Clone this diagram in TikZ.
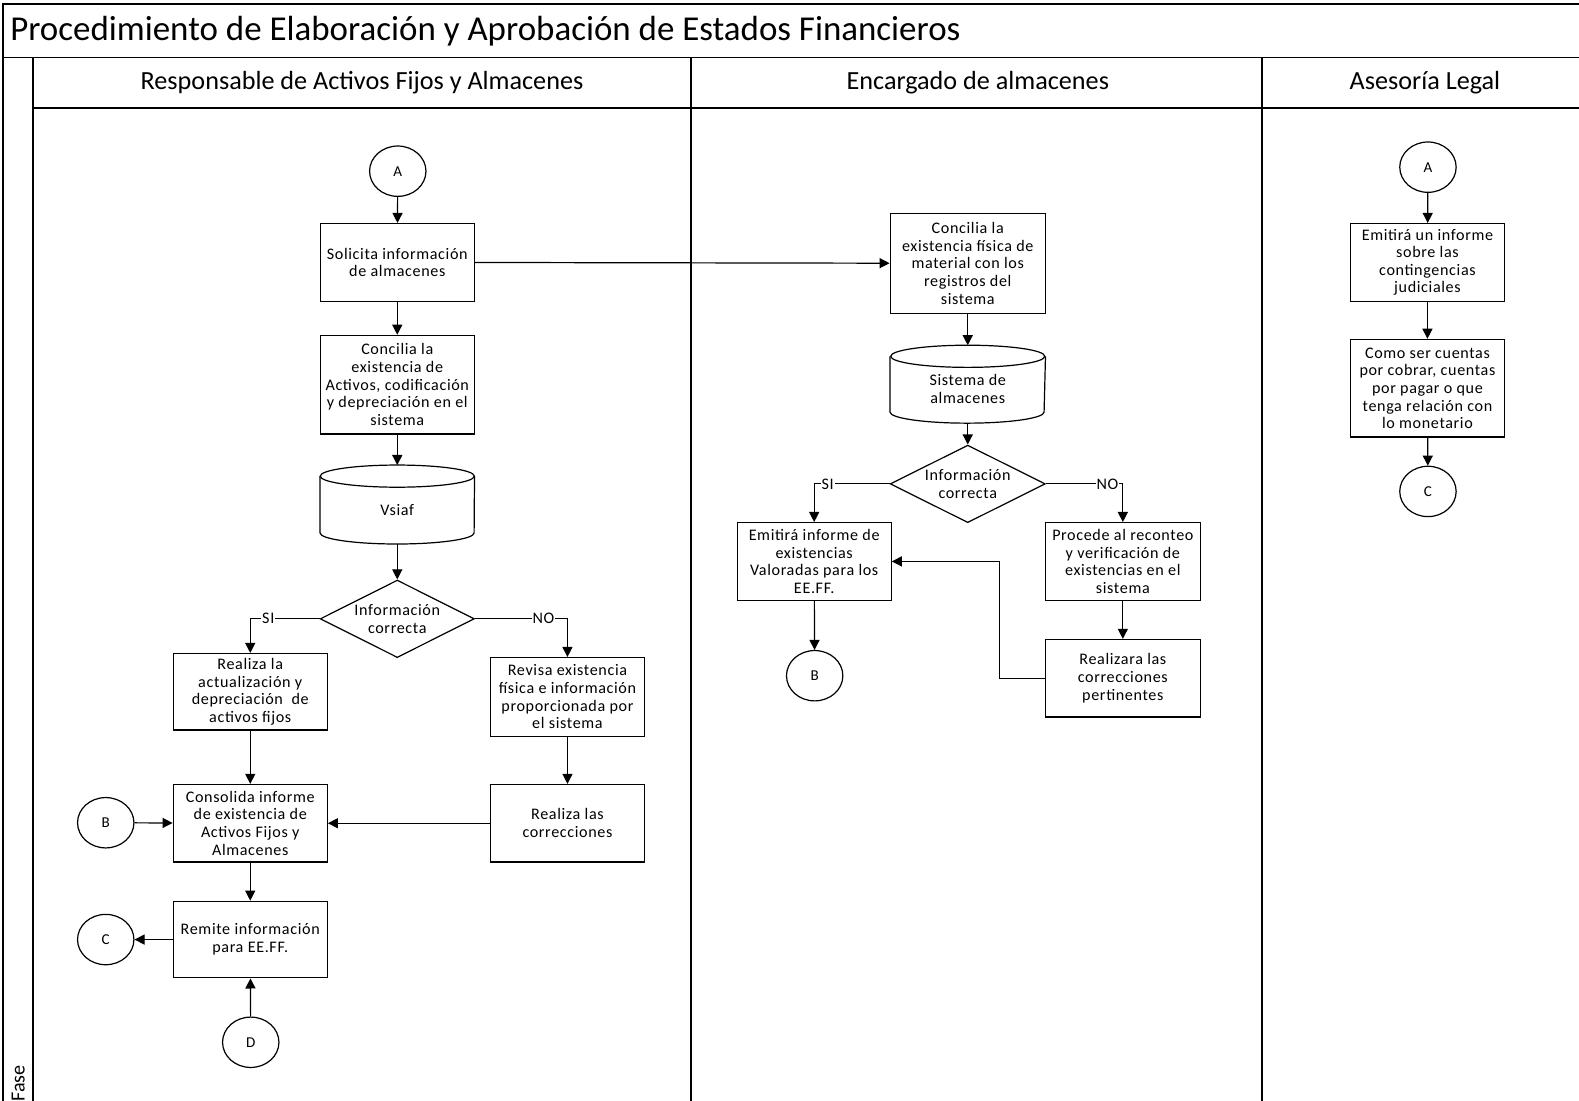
\documentclass[tikz,border=0pt]{standalone}
\usepackage{fontspec}
\setmainfont{Carlito}
\newfontfamily\boxfont{Carlito}[LetterSpace=4]
\usetikzlibrary{shapes.geometric,arrows.meta}

% outline of a data store drawn round a plain node
\newcommand{\dbshape}[1]{%
  \draw[line width=1.2pt] ([yshift=-11pt]#1.north west) -- ([yshift=11pt]#1.south west)
    arc[start angle=180, end angle=360, x radius=76.5pt, y radius=11pt]
    -- ([yshift=-11pt]#1.north east);
  \draw[line width=1.2pt] ([yshift=-11pt]#1.north) ellipse [x radius=76.5pt, y radius=11pt];}

\begin{document}
\begin{tikzpicture}[x=1pt, y=-1pt,
    txt/.style={font=\boxfont\fontsize{16}{17.5}\selectfont, align=center},
    actbox/.style={txt, draw, line width=1.2pt, rectangle, minimum width=153pt, minimum height=77pt, inner sep=2pt},
    store/.style={txt, rectangle, minimum width=153pt, minimum height=78pt, inner sep=2pt},
    decision/.style={txt, draw, line width=1.2pt, diamond, aspect=2, minimum width=153pt, minimum height=77pt, inner sep=0pt},
    conn/.style={draw, line width=1.2pt, ellipse, minimum width=56pt, minimum height=50pt, inner sep=0pt, font=\boxfont\fontsize{15}{17}\selectfont},
    flow/.style={-{Triangle[length=10pt,width=10pt]}, line width=1.2pt},
    lbl/.style={fill=white, inner sep=1pt, font=\boxfont\fontsize{16}{18}\selectfont},
    poolline/.style={line width=1.5pt},
    lane/.style={font=\fontsize{26}{30}\selectfont}]
  \useasboundingbox (0,0) rectangle (1568,1093);

  % pool, title band and lanes
  \draw[poolline] (3,1093) -- (3,4) -- (1568,4);
  \draw[poolline] (3,57) -- (1568,57);
  \draw[poolline] (33,107) -- (1568,107);
  \draw[poolline] (33,57) -- (33,1093);
  \draw[poolline] (686,57) -- (686,1093);
  \draw[poolline] (1253,57) -- (1253,1093);
  \node[anchor=west, inner sep=0pt, font=\fontsize{34.7}{40}\selectfont] (title) at (10,31)
    {Procedimiento de Elaboración y Aprobación de Estados Financieros};
  \node[lane] (hdr1) at (359.5,82) {Responsable de Activos Fijos y Almacenes};
  \node[lane] (hdr2) at (971,82) {Encargado de almacenes};
  \node[lane] (hdr3) at (1415,82) {Asesoría Legal};
  \node[rotate=90, anchor=west, inner sep=0pt, font=\fontsize{20}{22}\selectfont] (fase) at (18,1094) {Fase};

  % Responsable de Activos Fijos y Almacenes
  \node[conn] (a1) at (395,170) {A};
  \node[actbox] (solic) at (394.5,260.5) {Solicita información\\de almacenes};
  \node[actbox, minimum height=98pt] (conc1) at (394.5,382)
    {Concilia la\\existencia de\\Activos, codificación\\y depreciación en el\\sistema};
  \node[store] (vsiaf) at (394.5,501) {\rule{0pt}{21pt}Vsiaf};
  \dbshape{vsiaf}
  \node[decision] (dec1) at (394.5,614.5) {Información\\correcta};
  \node[actbox, minimum height=76pt] (real1) at (248.5,687)
    {Realiza la\\actualización y\\depreciación~ de\\activos fijos};
  \node[actbox, minimum height=78pt] (revisa) at (563.5,692)
    {Revisa existencia\\física e información\\proporcionada por\\el sistema};
  \node[actbox] (consol) at (248.5,817.5) {Consolida informe\\de existencia de\\Activos Fijos y\\Almacenes};
  \node[actbox] (corr1) at (563.5,817.5) {Realiza las\\correcciones};
  \node[actbox, minimum height=76pt] (remite) at (248.5,933) {Remite información\\para EE.FF.};
  \node[conn] (b1) at (105,817) {B};
  \node[conn] (c1) at (105,933) {C};
  \node[conn] (d1) at (249,1035) {D};

  \draw[flow] (a1) -- (solic);
  \draw[flow] (solic) -- (conc1);
  \draw[flow] (conc1) -- (vsiaf);
  \draw[flow] (vsiaf) -- (dec1);
  \draw[flow] (dec1.west) -| node[lbl, pos=0.37] {SI} (real1);
  \draw[flow] (dec1.east) -| node[lbl, pos=0.37] {NO} (revisa);
  \draw[flow] (real1) -- (consol);
  \draw[flow] (revisa) -- (corr1);
  \draw[flow] (corr1) -- (consol);
  \draw[flow] (b1) -- (consol);
  \draw[flow] (consol) -- (remite);
  \draw[flow] (remite) -- (c1);
  \draw[flow] (d1) -- (remite);

  % Encargado de almacenes
  \node[actbox, minimum width=154pt, minimum height=99pt] (conc2) at (961,261.5)
    {Concilia la\\existencia física de\\material con los\\registros del\\sistema};
  \node[store, minimum width=154pt, minimum height=77pt] (sis) at (961,381.5)
    {\rule{0pt}{21pt}Sistema de\\almacenes};
  \dbshape{sis}
  \node[decision, minimum width=154pt] (dec2) at (961,480.5) {Información\\correcta};
  \node[actbox] (emit) at (808.5,557.5) {Emitirá informe de\\existencias\\Valoradas para los\\EE.FF.};
  \node[actbox, minimum width=154pt] (proc) at (1115,557.5)
    {Procede al reconteo\\y verificación de\\existencias en el\\sistema};
  \node[actbox, minimum width=154pt] (corr2) at (1115,673.5) {Realizara las\\correcciones\\pertinentes};
  \node[conn] (b2) at (809,671) {B};

  \draw[flow] (solic) -- (conc2);
  \draw[flow] (conc2) -- (sis);
  \draw[flow] (sis) -- (dec2);
  \draw[flow] (dec2.west) -| node[lbl, pos=0.41] {SI} (emit);
  \draw[flow] (dec2.east) -| node[lbl, pos=0.40] {NO} (proc);
  \draw[flow] (emit) -- (b2);
  \draw[flow] (proc) -- (corr2);
  \draw[flow] (corr2.west) -- ++(-45,0) |- (emit);

  % Asesoria Legal
  \node[conn] (a3) at (1418,166) {A};
  \node[actbox] (emit3) at (1417.5,260.5) {Emitirá un informe\\sobre las\\contingencias\\judiciales};
  \node[actbox, minimum height=97pt] (como) at (1417.5,385.5)
    {Como ser cuentas\\por cobrar, cuentas\\por pagar o que\\tenga relación con\\lo monetario};
  \node[conn] (c3) at (1418,488) {C};

  \draw[flow] (a3) -- (emit3);
  \draw[flow] (emit3) -- (como);
  \draw[flow] (como) -- (c3);
\end{tikzpicture}
\end{document}
